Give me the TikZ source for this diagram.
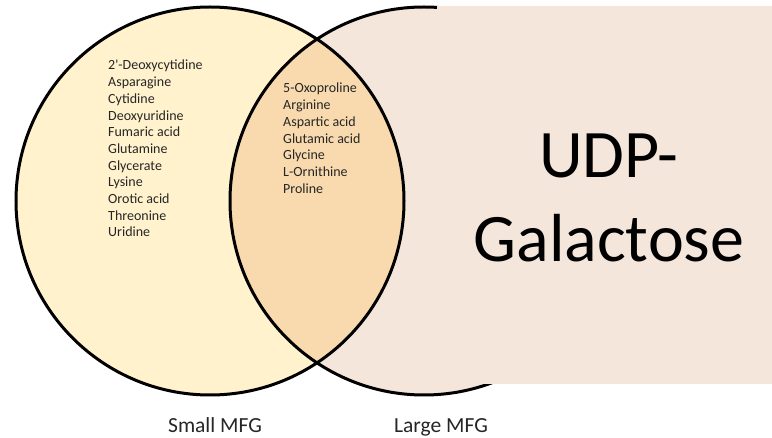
\documentclass[tikz,border=0pt]{standalone}
\usepackage{fontspec}
\setmainfont{Carlito}
\usepackage{xcolor}
\definecolor{smallfill}{HTML}{FFF2CC}
\definecolor{largefill}{HTML}{F5E6DC}
\definecolor{bothfill}{HTML}{F8DAAE}
\definecolor{txtgray}{HTML}{262626}

\begin{document}
\begin{tikzpicture}[x=1pt,y=-1pt,
   every node/.style={inner sep=0pt,text=txtgray},
   ring/.style={draw=black,line width=3pt},
   items/.style={align=left,anchor=north west,font=\fontsize{14}{16.7}\selectfont},
   setlabel/.style={anchor=base,font=\fontsize{21.5}{26}\selectfont},
   cover/.style={fill=largefill,draw=none},
   bigtext/.style={align=center,anchor=north,text=black,
                   font=\fontsize{68}{84}\selectfont}
]
\useasboundingbox (0,0) rectangle (772,438);
\fill[white] (0,0) rectangle (772,438);

% Circle centres
\coordinate (CS) at (210,201);
\coordinate (CL) at (424,201);

% Fills
\fill[smallfill] (CS) circle[radius=194];
\fill[largefill] (CL) circle[radius=194];
\begin{scope}
  \clip (CS) circle[radius=194];
  \fill[bothfill] (CL) circle[radius=194];
\end{scope}

% Outlines
\draw[ring] (CS) circle[radius=194];
\draw[ring] (CL) circle[radius=194];

% Contents
\node[items] (SM) at (108,60) {2\textquotesingle-Deoxycytidine\\Asparagine\\Cytidine\\Deoxyuridine\\Fumaric acid\\Glutamine\\Glycerate\\Lysine\\Orotic acid\\Threonine\\Uridine};
\node[items] (BO) at (283,83) {5-Oxoproline\\Arginine\\Aspartic acid\\Glutamic acid\\Glycine\\L-Ornithine\\Proline};

% Set labels
\node[setlabel] (LS) at (215,433) {Small MFG};
\node[setlabel] (LL) at (441,433) {Large MFG};

% Overlay box
\fill[cover] (437,6) rectangle (772,384);
\node[bigtext] (UG) at (609,134) {UDP-\\Galactose};

\end{tikzpicture}
\end{document}
